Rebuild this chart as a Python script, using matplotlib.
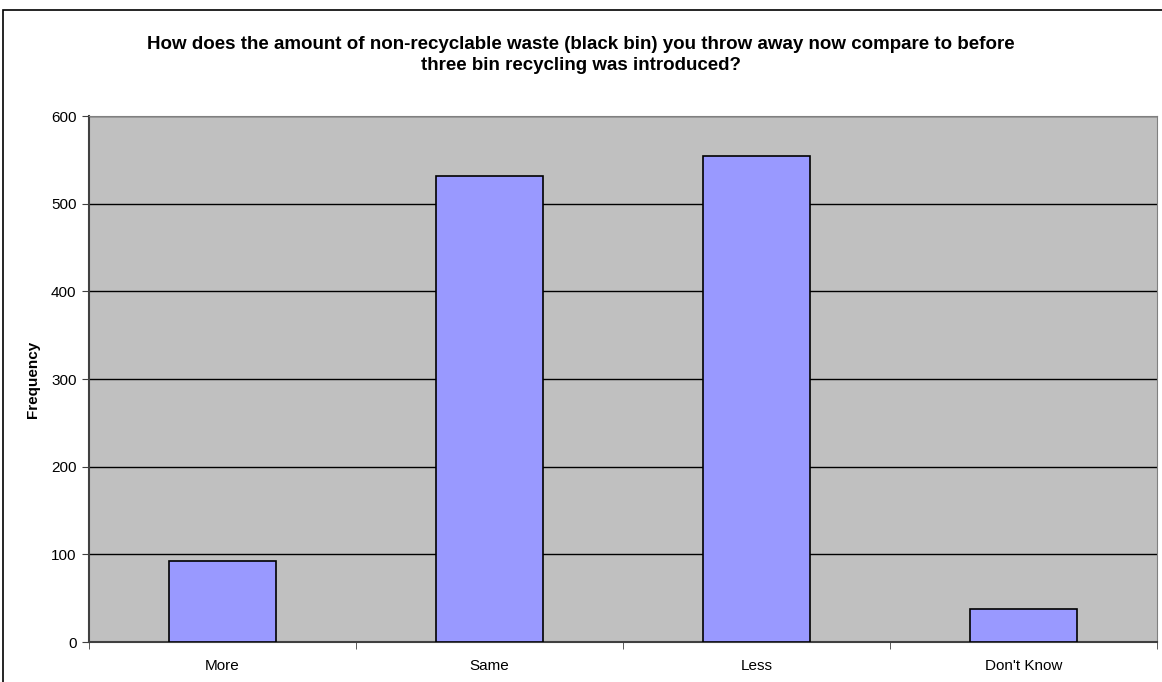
import matplotlib.pyplot as plt
from matplotlib.patches import Rectangle

plt.rcParams['font.family'] = ['Liberation Sans', 'DejaVu Sans']

categories = ["More", "Same", "Less", "Don't Know"]
frequency = [92, 532, 554, 38]
y_ticks = [0, 100, 200, 300, 400, 500, 600]

W, H = 1162, 682
fig = plt.figure(figsize=(W / 100, H / 100), dpi=100)
fig.patches.append(Rectangle((3 / W, -0.1), 1.2, 1 - 10 / H + 0.1,
                             transform=fig.transFigure, fill=False,
                             edgecolor='black', linewidth=1.2))

ax = fig.add_axes([89 / W, 1 - 642 / H, (1157 - 89) / W, (642 - 116) / H])
ax.set_facecolor('#C0C0C0')

pos = list(range(len(categories)))
ax.bar(pos, frequency, width=0.4, color='#9999FF', edgecolor='black',
       linewidth=1.2, zorder=3)

ax.set_xlim(-0.5, len(categories) - 0.5)
ax.set_ylim(0, 600)
ax.set_yticks(y_ticks)
ax.yaxis.grid(True, color='black', linewidth=1)
ax.set_axisbelow(True)

ax.set_xticks(pos)
ax.set_xticklabels(categories, fontsize=11)
ax.set_xticks([p - 0.5 for p in pos] + [len(pos) - 0.5], minor=True)
ax.tick_params(axis='x', which='major', length=0, pad=12)
ax.tick_params(axis='x', which='minor', length=5, color='#404040')
ax.tick_params(axis='y', length=5, labelsize=11, pad=4, color='#404040')

for s in ['top', 'right']:
    ax.spines[s].set_color('#808080')
for s in ['left', 'bottom']:
    ax.spines[s].set_color('#404040')
    ax.spines[s].set_linewidth(1.5)

fig.text(33 / W, 1 - 379 / H, 'Frequency', rotation=90, ha='center', va='center',
         fontsize=11, fontweight='bold')
fig.text(0.5, 1 - 55 / H,
         'How does the amount of non-recyclable waste (black bin) you throw away now compare to before\n'
         'three bin recycling was introduced?',
         ha='center', va='center', fontsize=13.5, fontweight='bold', linespacing=1.25)

fig.savefig('out.png', dpi=100)
